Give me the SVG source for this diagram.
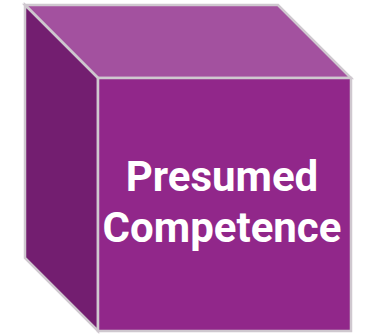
<svg xmlns="http://www.w3.org/2000/svg" width="367" height="334" viewBox="0 0 367 334">
  <style>
    .face { stroke: #cfc8cf; stroke-width: 2.5; stroke-linejoin: miter; }
    .top { fill: #a3519f; }
    .side { fill: #731e70; }
    .front { fill: #91278a; }
    .label { font-family: Roboto, "Liberation Sans", sans-serif; font-weight: bold; font-size: 42px; fill: #ffffff; text-anchor: middle; }
  </style>
  <g id="cube">
    <polygon class="face top" points="25,5 278,5 351,78 98,78"/>
    <polygon class="face side" points="25,5 98,78 98,331 25,258"/>
    <polygon class="face front" points="98,78 351,78 351,331 98,331"/>
    <text class="label" x="222" y="191">Presumed</text>
    <text class="label" x="222" y="242">Competence</text>
  </g>
</svg>
